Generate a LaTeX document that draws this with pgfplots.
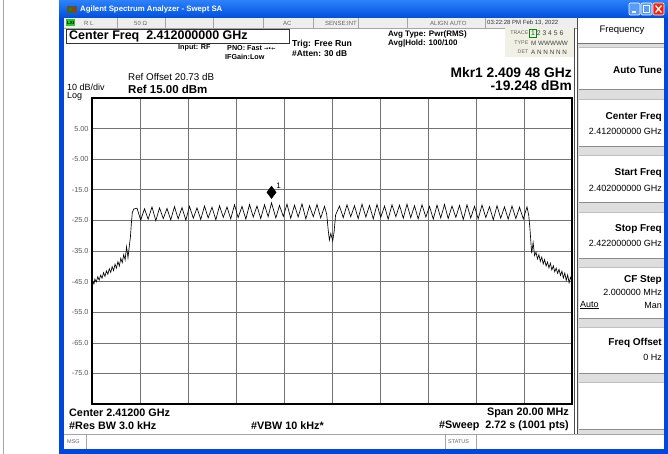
\documentclass[border=0pt]{standalone}
\usepackage{fontspec}
\setmainfont{Liberation Sans}
\newfontfamily\sym{DejaVu Sans}
\usepackage{pgfplots}
\pgfplotsset{compat=1.18}
\definecolor{xpblue}{RGB}{0,72,220}
\definecolor{xpblueA}{RGB}{45,130,250}
\definecolor{xpblueB}{RGB}{0,78,222}
\definecolor{panelgray}{RGB}{222,222,222}
\definecolor{statgray}{RGB}{238,238,238}
\definecolor{linegray}{RGB}{165,165,165}
\definecolor{tracebg}{RGB}{240,240,228}
\definecolor{lxigreen}{RGB}{40,200,40}
\newcommand{\fs}[1]{\fontsize{#1}{#1}\selectfont}
\begin{document}
\begin{tikzpicture}
\useasboundingbox (0,0) rectangle (668pt,-454pt);
\begin{scope}[x=1pt,y=-1pt]
\fill[white] (0,0) rectangle (668,454);
\draw[linegray,line width=0.8pt] (3,0) -- (3,454);
% window border
\fill[xpblue] (59,0) rectangle (64,454);
\fill[xpblue] (664,0) rectangle (668,454);
\fill[xpblue] (59,449) rectangle (668,454);
% title bar
\shade[top color=xpblueA, bottom color=xpblueB] (59,0) rectangle (668,18);
\fill[brown!60!black] (67,6) rectangle (77,13);
\fill[green!60!black] (69,8) rectangle (72,11);
\node[anchor=west,text=white,font=\bfseries\fs{7.8},inner sep=0] at (80,10) {Agilent Spectrum Analyzer - Swept SA};
\fill[xpblueA!80!white,draw=white,line width=0.6pt,rounded corners=1pt] (629,3) rectangle (640,15);
\draw[white,line width=1.4pt] (631.5,12) -- (635.5,12);
\fill[xpblueA!80!white,draw=white,line width=0.6pt,rounded corners=1pt] (641,3) rectangle (652,15);
\draw[white,line width=0.8pt] (643.5,5.5) rectangle (649.5,12.5);
\fill[red!75!orange,draw=white,line width=0.6pt,rounded corners=1pt] (653,3) rectangle (664,15);
\draw[white,line width=1.3pt] (655.5,5.5) -- (661.5,12.5) (655.5,12.5) -- (661.5,5.5);
% status row
\fill[statgray] (64,18) rectangle (577,28);
\draw[linegray,line width=0.5pt] (64,28) -- (577,28);
\foreach \xx in {117,165,213,263,313,358,407,485}{\draw[linegray,line width=0.5pt] (\xx,18) -- (\xx,28);}
\fill[lxigreen] (66,19.5) rectangle (75,26.5);
\node[font=\bfseries\fs{4.5},inner sep=0] at (70.5,23) {LXI};
\begin{scope}[every node/.style={inner sep=0,anchor=west,font=\fs{6},text=black!60}]
\node at (84,23) {R L};
\node at (134,23) {50 Ω};
\node at (283,23) {AC};
\node at (325,23) {SENSE:INT};
\node at (430,23) {ALIGN AUTO};
\node[text=black!80] at (487,23) {03:22:28 PM Feb 13, 2022};
\end{scope}
% center freq box
\draw[black!80,line width=0.8pt] (66,29) rectangle (289,43.5);
\node[anchor=west,inner sep=0,font=\bfseries\fs{12.5}] at (69,36.5) {Center Freq\ \ 2.412000000 GHz};
\begin{scope}[every node/.style={inner sep=0,anchor=west}]
\node[font=\bfseries\fs{7.2}] at (178,48) {Input: RF};
\node[font=\bfseries\fs{7.2}] at (227,48) {PNO: Fast {\sym\fs{5}→•←}};
\node[font=\bfseries\fs{7.2}] at (225,57) {IFGain:Low};
\node[font=\bfseries\fs{8.7}] at (292,44.5) {Trig: Free Run};
\node[font=\bfseries\fs{8.4}] at (292,54) {\#Atten: 30 dB};
\node[font=\bfseries\fs{8}] at (388,34) {Avg Type: Pwr(RMS)};
\node[font=\bfseries\fs{8}] at (388,43.5) {Avg|Hold: 100/100};
\end{scope}
% trace box
\fill[tracebg] (505,28.5) rectangle (574,57);
\draw[green!55!black,line width=0.5pt] (529.5,29.5) rectangle (536,37);
\begin{scope}[every node/.style={inner sep=0,font=\fs{5.3}}]
\node[anchor=east,text=black!60] at (528.5,33) {TRACE};
\node[anchor=east,text=black!60] at (528.5,43) {TYPE};
\node[anchor=east,text=black!60] at (528.5,52) {DET};
\node[anchor=west,font=\fs{6.8},text=black!75] at (531,33.5) {1 2 3 4 5 6};
\node[anchor=west,font=\fs{6.3},text=black!75] at (531,43) {M WWWWW};
\node[anchor=west,font=\fs{6.3},text=black!75] at (531,52.5) {A N N N N N};
\end{scope}
% ref texts
\begin{scope}[every node/.style={inner sep=0}]
\node[anchor=west,font=\fs{9.8}] at (128,77) {Ref Offset 20.73 dB};
\node[anchor=west,font=\bfseries\fs{11.5}] at (128,89) {Ref 15.00 dBm};
\node[anchor=base west,font=\fs{9}] at (67,90.2) {10 dB/div};
\node[anchor=base west,font=\fs{9}] at (67,98.8) {Log};
\node[anchor=east,font=\bfseries\fs{13.8}] at (572,73) {Mkr1 2.409 48 GHz};
\node[anchor=east,font=\bfseries\fs{13.8}] at (572,86) {-19.248 dBm};
% bottom texts
\node[anchor=west,font=\bfseries\fs{10.8}] at (69,413) {Center 2.41200 GHz};
\node[anchor=west,font=\bfseries\fs{10.8}] at (69,426) {\#Res BW 3.0 kHz};
\node[anchor=west,font=\bfseries\fs{10.8}] at (251,426) {\#VBW 10 kHz*};
\node[anchor=east,font=\bfseries\fs{10.8}] at (569,413) {Span 20.00 MHz};
\node[anchor=east,font=\bfseries\fs{10.8}] at (569,426) {\#Sweep\ \ 2.72 s (1001 pts)};
\end{scope}
% MSG bar
\draw[linegray,line width=0.6pt] (64,434.5) -- (664,434.5);
\foreach \xx in {86,445,476}{\draw[linegray,line width=0.5pt] (\xx,434.5) -- (\xx,449);}
\node[anchor=west,inner sep=0,font=\fs{5.5},text=black!60] at (67,442) {MSG};
\node[anchor=west,inner sep=0,font=\fs{5.5},text=black!60] at (448,442) {STATUS};
% softkey panel
\fill[panelgray] (577,18) rectangle (664,434);
\draw[black!70,line width=0.7pt] (574.5,28) -- (574.5,434);
\draw[black!70,line width=0.7pt] (577,18) -- (577,434);
\fill[white] (578,18) rectangle (664,43);
\draw[black!55,line width=0.6pt] (578,43) -- (664,43);
\node[inner sep=0,font=\fs{9.5}] at (622,30.5) {Frequency};
\foreach \ya/\yb in {47/89,99/146,155/202,212/258,267/318,327/373,382/429}{
  \fill[white] (579,\ya) rectangle (664,\yb);
  \draw[black!45,line width=0.6pt] (579,\yb) -- (664,\yb);
  \draw[black!25,line width=0.5pt] (579,\ya) -- (664,\ya);
}
\begin{scope}[every node/.style={inner sep=0,anchor=east}]
\node[font=\bfseries\fs{10}] at (662,70) {Auto Tune};
\node[font=\bfseries\fs{10}] at (662,117) {Center Freq};
\node[font=\fs{9}] at (662,131.5) {2.412000000 GHz};
\node[font=\bfseries\fs{10}] at (662,173) {Start Freq};
\node[font=\fs{9}] at (662,188) {2.402000000 GHz};
\node[font=\bfseries\fs{10}] at (662,229) {Stop Freq};
\node[font=\fs{9}] at (662,243.5) {2.422000000 GHz};
\node[font=\bfseries\fs{10}] at (662,280) {CF Step};
\node[font=\fs{9}] at (662,292.5) {2.000000 MHz};
\node[font=\fs{9}] at (662,305) {Man};
\node[font=\fs{9},anchor=west] at (580,305) {\underline{Auto}};
\node[font=\bfseries\fs{10}] at (662,343) {Freq Offset};
\node[font=\fs{9}] at (662,357) {0 Hz};
\end{scope}
\end{scope}
\begin{axis}[
  at={(92pt,-404pt)}, anchor=south west,
  scale only axis, width=480pt, height=306pt,
  xmin=2402, xmax=2422, ymin=-85, ymax=15,
  xtick={2404,2406,2408,2410,2412,2414,2416,2418,2420},
  xticklabels={},
  ytick={-75,-65,-55,-45,-35,-25,-15,-5,5},
  yticklabels={-75.0,-65.0,-55.0,-45.0,-35.0,-25.0,-15.0,-5.00,5.00},
  /pgf/number format/assume math mode=true,
  yticklabel style={font=\fs{7.3}, text=black!65},
  major tick length=0pt,
  grid=major,
  major grid style={black!55, line width=0.6pt},
  axis line style={black, line width=1.4pt},
]
\addplot[black, line width=0.65pt] coordinates {
(2402.00,-46.6) (2402.04,-45.0) (2402.08,-45.8) (2402.12,-44.2) (2402.18,-45.1)
(2402.24,-43.4) (2402.30,-44.5) (2402.36,-42.9) (2402.42,-43.9) (2402.48,-42.1)
(2402.54,-43.3) (2402.60,-41.5) (2402.66,-42.6) (2402.72,-40.8) (2402.78,-42.0)
(2402.84,-40.1) (2402.90,-41.4) (2402.96,-39.3) (2403.02,-40.6) (2403.08,-38.5)
(2403.14,-39.9) (2403.20,-37.4) (2403.26,-38.8) (2403.32,-36.2) (2403.38,-37.9)
(2403.44,-33.6) (2403.50,-37.2) (2403.56,-33.0) (2403.60,-30.5) (2403.64,-26.0)
(2403.68,-22.4) (2403.74,-21.3)
(2403.875,-21.0) (2404.03,-24.9) (2404.1875,-21.2) (2404.34,-24.6) (2404.5,-20.6)
(2404.66,-25.1) (2404.8125,-20.9) (2404.97,-24.4) (2405.125,-21.1) (2405.28,-24.8)
(2405.4375,-20.5) (2405.59,-24.5) (2405.75,-20.8) (2405.91,-24.9) (2406.0625,-20.4)
(2406.22,-24.3) (2406.375,-20.9) (2406.53,-24.7) (2406.6875,-20.3) (2406.84,-24.2)
(2407.0,-20.7) (2407.16,-24.8) (2407.3125,-20.2) (2407.47,-24.0) (2407.625,-20.6)
(2407.78,-24.5) (2407.9375,-19.9) (2408.09,-24.1) (2408.25,-20.4) (2408.41,-24.6)
(2408.5625,-19.8) (2408.72,-23.9) (2408.875,-20.3) (2409.03,-24.4) (2409.1875,-19.9)
(2409.34,-23.8) (2409.48,-19.25) (2409.66,-24.2) (2409.8125,-20.1) (2409.97,-23.7)
(2410.125,-19.7) (2410.28,-24.3) (2410.4375,-20.0) (2410.59,-23.9) (2410.75,-19.6)
(2410.91,-24.5) (2411.0625,-20.2) (2411.22,-23.8) (2411.375,-19.8) (2411.53,-24.2)
(2411.6875,-20.4)
(2411.78,-23.0) (2411.84,-28.0) (2411.89,-31.4) (2411.95,-29.3) (2412.03,-31.7)
(2412.09,-28.5) (2412.15,-23.2)
(2412.3125,-20.3) (2412.47,-24.1) (2412.625,-19.9) (2412.78,-23.8) (2412.9375,-20.2)
(2413.09,-24.4) (2413.25,-19.7) (2413.41,-23.9) (2413.5625,-20.1) (2413.72,-24.5)
(2413.875,-19.8) (2414.03,-24.0) (2414.1875,-20.3) (2414.34,-24.6) (2414.5,-19.9)
(2414.66,-23.8) (2414.8125,-20.0) (2414.97,-24.3) (2415.125,-19.7) (2415.28,-24.1)
(2415.4375,-20.2) (2415.59,-24.5) (2415.75,-19.9) (2415.91,-23.9) (2416.0625,-20.4)
(2416.22,-24.6) (2416.375,-20.0) (2416.53,-24.2) (2416.6875,-19.8) (2416.84,-24.4)
(2417.0,-20.3) (2417.16,-24.0) (2417.3125,-20.1) (2417.47,-24.7) (2417.625,-19.9)
(2417.78,-24.2) (2417.9375,-20.4) (2418.09,-24.5) (2418.25,-20.0) (2418.41,-24.1)
(2418.5625,-20.5) (2418.72,-24.8) (2418.875,-20.2) (2419.03,-24.3) (2419.1875,-20.6)
(2419.34,-24.6) (2419.5,-20.3) (2419.66,-24.4) (2419.8125,-20.7) (2419.97,-24.5)
(2420.125,-20.6)
(2420.20,-23.5) (2420.25,-28.0) (2420.32,-35.8) (2420.38,-32.2) (2420.44,-36.5)
(2420.50,-35.4) (2420.56,-37.6) (2420.62,-36.2) (2420.68,-38.4) (2420.74,-37.0)
(2420.80,-39.2) (2420.86,-37.8) (2420.92,-39.9) (2420.98,-38.6) (2421.04,-40.5)
(2421.10,-39.0) (2421.16,-41.2) (2421.22,-39.8) (2421.28,-41.8) (2421.34,-40.6)
(2421.40,-42.3) (2421.46,-41.0) (2421.52,-43.0) (2421.58,-41.6) (2421.64,-43.8)
(2421.70,-42.2) (2421.76,-44.6) (2421.82,-42.8) (2421.88,-45.4) (2421.94,-43.6)
(2422.00,-44.8)
};
\addplot[only marks, mark=diamond*, mark size=6.2pt, mark options={fill=black, draw=black, yshift=10.5pt}] coordinates {(2409.48,-19.248)};
\node[font=\fs{8}, inner sep=0] at (axis cs:2409.48,-19.248) [xshift=7pt, yshift=17pt] {1};
\end{axis}
\end{tikzpicture}
\end{document}
